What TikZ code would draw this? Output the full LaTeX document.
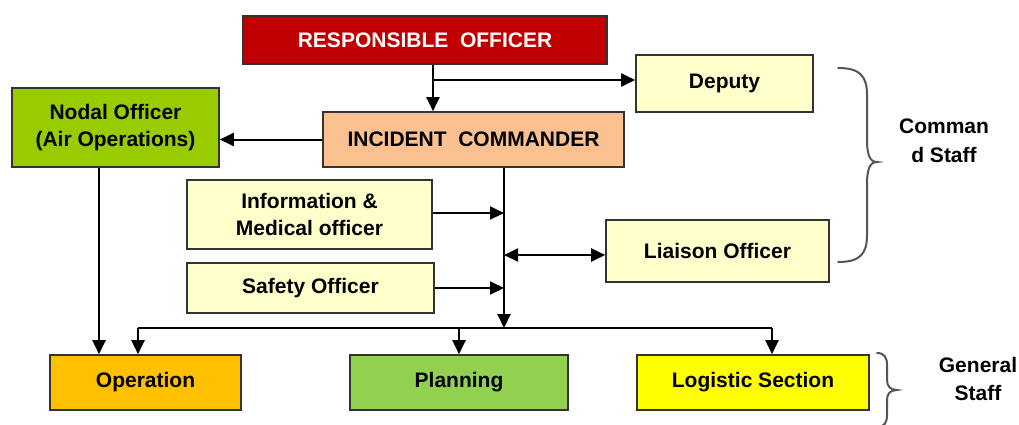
\documentclass[tikz,border=0pt]{standalone}
\usepackage{fontspec}
\setmainfont{Liberation Sans}
\usetikzlibrary{arrows.meta}
\definecolor{rored}{HTML}{C00000}
\definecolor{paleyel}{HTML}{FFFFCC}
\definecolor{nodalgreen}{HTML}{99CC00}
\definecolor{peach}{HTML}{FAC090}
\definecolor{opor}{HTML}{FFC000}
\definecolor{plgreen}{HTML}{92D050}
\definecolor{lgyel}{HTML}{FFFF00}
\definecolor{bordgray}{HTML}{333333}
\definecolor{bracegray}{HTML}{555555}
\tikzset{
  box/.style={draw=bordgray, line width=1.6pt, inner sep=0pt, align=center,
    font=\fontsize{21}{27}\selectfont\bfseries},
  arr/.style={line width=2pt, -{Triangle[length=14pt,width=13pt]}},
  arrboth/.style={line width=2pt, {Triangle[length=14pt,width=13pt]}-{Triangle[length=14pt,width=13pt]}},
  ln/.style={line width=2pt},
  brace/.style={draw=bracegray, line width=2pt, line cap=round},
  lbl/.style={align=center, font=\fontsize{21}{29}\selectfont\bfseries}
}
\begin{document}
\begin{tikzpicture}[x=1pt,y=-1pt]
\useasboundingbox (0,0) rectangle (1019,424);
% boxes
\node[box, fill=rored, text=white, minimum width=364pt, minimum height=48pt] (RO) at (425,40) {RESPONSIBLE\ \ OFFICER};
\node[box, fill=paleyel, minimum width=177pt, minimum height=57pt] (Deputy) at (724.5,83.5) {Deputy};
\node[box, fill=nodalgreen, minimum width=207pt, minimum height=79pt] (Nodal) at (115.5,127.5) {Nodal\ Officer\\(Air Operations)};
\node[box, fill=peach, minimum width=301pt, minimum height=55pt] (IC) at (473.5,139.5) {INCIDENT\ \ COMMANDER};
\node[box, fill=paleyel, minimum width=245pt, minimum height=69pt] (Info) at (309.5,214.5) {Information \&\\Medical officer};
\node[box, fill=paleyel, minimum width=247pt, minimum height=50pt] (Safety) at (310.5,288) {Safety Officer};
\node[box, fill=paleyel, minimum width=223pt, minimum height=62pt] (Liaison) at (717.5,251) {Liaison Officer};
\node[box, fill=opor, minimum width=191pt, minimum height=55pt] (Operation) at (145.5,382.5) {Operation};
\node[box, fill=plgreen, minimum width=218pt, minimum height=55pt] (Planning) at (459,382.5) {Planning};
\node[box, fill=lgyel, minimum width=232pt, minimum height=55pt] (Logistic) at (753,382.5) {Logistic Section};
% junction coordinates
\coordinate (j1) at (433,80);
\coordinate (sp) at (504,328);
\coordinate (b1) at (138,328);
\coordinate (b3) at (772,328);
\coordinate (n1) at (99,0);
\coordinate (li) at (504,255);
% connectors
\draw[arr] (RO.south -| j1) -- (IC.north -| j1);
\draw[arr] (j1) -- (Deputy.west |- j1);
\draw[arr] (IC.west) -- (Nodal.east |- IC.west);
\draw[arr] (IC.south -| sp) -- (sp);
\draw[ln] (b1) -- (b3);
\draw[arr] (b1) -- (Operation.north -| b1);
\draw[arr] (Planning.north |- sp) -- (Planning.north);
\draw[arr] (b3) -- (Logistic.north -| b3);
\draw[arr] (Nodal.south -| n1) -- (Operation.north -| n1);
\draw[arr] (Info.east |- 0,213) -- (sp |- 0,213);
\draw[arr] (Safety.east) -- (sp |- Safety.east);
\draw[arrboth] (li) -- (Liaison.west |- li);
% braces
\draw[brace] (838,68) .. controls (860,68) and (867,76) .. (867,95) -- (867,140)
  .. controls (867,155) and (870,162) .. (877,162)
  .. controls (870,162) and (867,169) .. (867,184) -- (867,235)
  .. controls (867,254) and (860,262) .. (838,262);
\draw[brace] (877,353) .. controls (884,353) and (887,357) .. (887,365) -- (887,380)
  .. controls (887,386) and (890,390) .. (897,390)
  .. controls (890,390) and (887,394) .. (887,400) -- (887,415)
  .. controls (887,423) and (884,427) .. (877,427);
% labels
\node[lbl] (cmd) at (944,141) {Comman\\d Staff};
\node[lbl, font=\fontsize{21}{28}\selectfont\bfseries] (gen) at (978,379) {General\\Staff};
\end{tikzpicture}
\end{document}
